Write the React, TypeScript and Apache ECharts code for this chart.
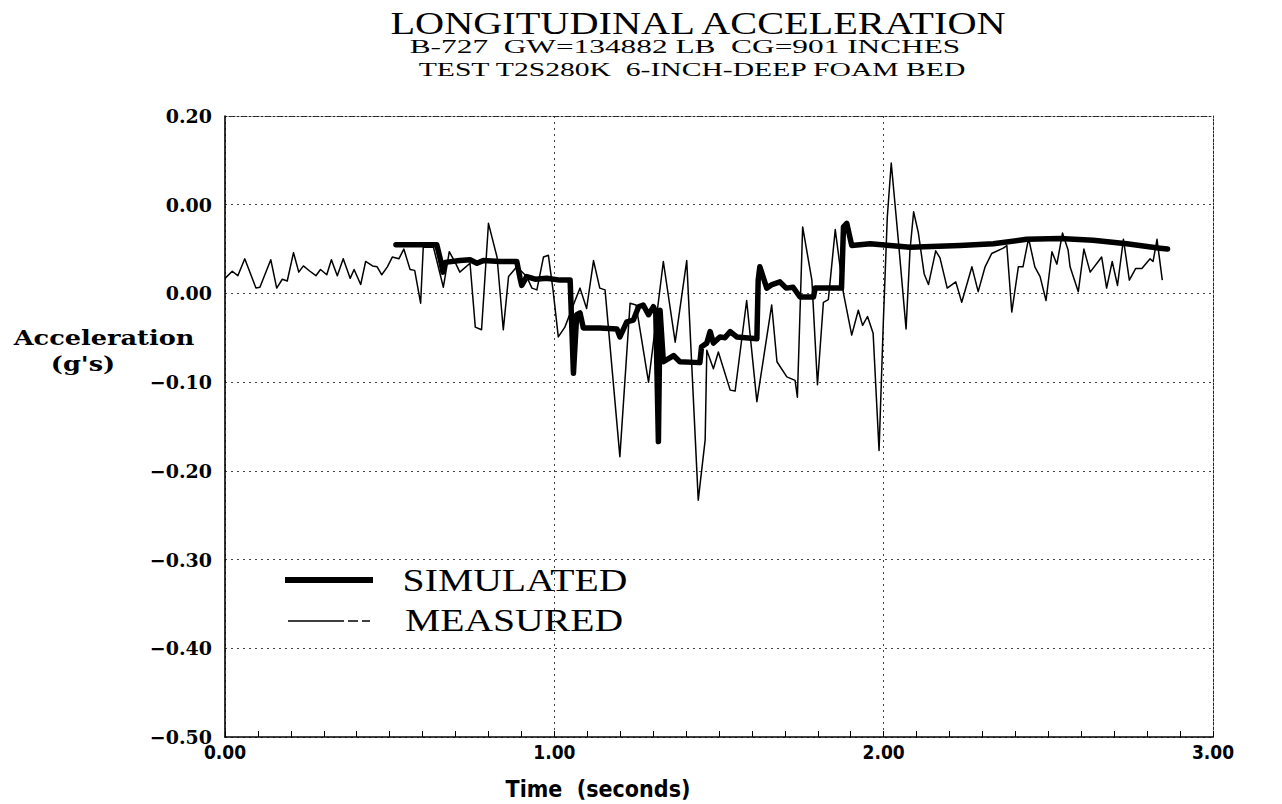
import React, { useEffect, useRef } from "react";
import * as echarts from "echarts";

// Axis ranges and printed tick labels (the second label from the top is printed as "0.00")
const xRange = [0, 3];
const yRange = [-0.5, 0.2];
const yTickLabels = ["−0.50", "−0.40", "−0.30", "−0.20", "−0.10", "0.00", "0.00", "0.20"];

const titleText = "LONGITUDINAL ACCELERATION";
const subtitle1 = "B-727  GW=134882 LB  CG=901 INCHES";
const subtitle2 = "TEST T2S280K  6-INCH-DEEP FOAM BED";
const yName = ["Acceleration", "(g's)"];
const xName = "Time  (seconds)";
const legendNames = ["SIMULATED", "MEASURED"];

// [time (s), acceleration (g)]
const simulated: [number, number][] = [
  [0.519, 0.055], [0.643, 0.055], [0.656, 0.035], [0.662, 0.024], [0.668, 0.035], [0.713, 0.037],
  [0.744, 0.038], [0.765, 0.034], [0.784, 0.037], [0.835, 0.036], [0.886, 0.036], [0.896, 0.017],
  [0.901, 0.009], [0.916, 0.019], [0.942, 0.016], [0.977, 0.017], [1.017, 0.015], [1.048, 0.015],
  [1.058, -0.09], [1.068, -0.024], [1.078, -0.022], [1.088, -0.039], [1.138, -0.039], [1.19, -0.04],
  [1.199, -0.049], [1.22, -0.032], [1.24, -0.03], [1.256, -0.015], [1.27, -0.013], [1.286, -0.024],
  [1.301, -0.015], [1.308, -0.021], [1.316, -0.167], [1.321, -0.019], [1.331, -0.077], [1.362, -0.07],
  [1.381, -0.077], [1.442, -0.078], [1.447, -0.06], [1.463, -0.056], [1.473, -0.043], [1.483, -0.056],
  [1.503, -0.049], [1.518, -0.05], [1.534, -0.043], [1.554, -0.049], [1.615, -0.051], [1.619, 0.015],
  [1.624, 0.03], [1.645, 0.006], [1.661, 0.01], [1.685, 0.013], [1.704, 0.006], [1.725, 0.007],
  [1.746, -0.004], [1.787, -0.004], [1.792, 0.006], [1.872, 0.006], [1.878, 0.075], [1.888, 0.079],
  [1.903, 0.054], [1.959, 0.056], [2.08, 0.052], [2.232, 0.054], [2.333, 0.056], [2.434, 0.061],
  [2.535, 0.062], [2.636, 0.06], [2.738, 0.056], [2.839, 0.051], [2.862, 0.05],
];

const measured: [number, number][] = [
  [0.0, 0.017], [0.022, 0.025], [0.039, 0.02], [0.06, 0.039], [0.094, 0.006], [0.106, 0.007],
  [0.139, 0.038], [0.157, 0.006], [0.174, 0.016], [0.189, 0.014], [0.208, 0.046], [0.224, 0.024],
  [0.238, 0.031], [0.258, 0.025], [0.276, 0.02], [0.29, 0.027], [0.309, 0.021], [0.323, 0.038],
  [0.341, 0.02], [0.359, 0.039], [0.38, 0.017], [0.392, 0.027], [0.412, 0.01], [0.427, 0.036],
  [0.448, 0.031], [0.462, 0.03], [0.476, 0.021], [0.493, 0.03], [0.508, 0.041], [0.528, 0.039],
  [0.543, 0.05], [0.562, 0.027], [0.576, 0.026], [0.594, -0.011], [0.602, 0.052], [0.633, 0.052],
  [0.663, 0.007], [0.681, 0.047], [0.699, 0.035], [0.713, 0.024], [0.744, 0.034], [0.76, -0.038],
  [0.779, -0.041], [0.8, 0.079], [0.826, 0.041], [0.845, -0.041], [0.861, 0.019], [0.886, 0.03],
  [0.916, 0.019], [0.932, 0.006], [0.947, 0.004], [0.967, 0.041], [0.982, 0.043], [0.996, 0.004],
  [1.012, -0.049], [1.032, -0.038], [1.063, -0.008], [1.078, 0.006], [1.098, -0.017], [1.119, 0.037],
  [1.138, 0.006], [1.154, 0.004], [1.199, -0.184], [1.23, -0.011], [1.248, -0.013], [1.286, -0.1],
  [1.331, 0.036], [1.367, -0.055], [1.402, 0.037], [1.437, -0.233], [1.458, -0.165], [1.463, -0.064],
  [1.483, -0.085], [1.498, -0.066], [1.534, -0.109], [1.549, -0.11], [1.584, -0.008], [1.615, -0.122],
  [1.66, -0.013], [1.676, -0.077], [1.706, -0.094], [1.731, -0.098], [1.738, -0.117], [1.754, 0.075],
  [1.782, 0.015], [1.799, -0.103], [1.817, -0.01], [1.832, -0.007], [1.853, 0.072], [1.878, 0.0],
  [1.903, -0.047], [1.923, -0.019], [1.936, -0.036], [1.951, -0.026], [1.968, -0.045], [1.986, -0.177],
  [1.999, -0.032], [2.011, 0.086], [2.023, 0.147], [2.044, 0.062], [2.068, -0.04], [2.08, 0.049],
  [2.091, 0.092], [2.105, 0.069], [2.123, 0.022], [2.136, 0.01], [2.158, 0.048], [2.171, 0.04],
  [2.193, 0.006], [2.219, 0.013], [2.237, -0.01], [2.268, 0.03], [2.287, 0.002], [2.308, 0.03],
  [2.328, 0.045], [2.363, 0.051], [2.374, 0.054], [2.389, -0.021], [2.409, 0.03], [2.423, 0.03],
  [2.44, 0.062], [2.459, 0.03], [2.475, 0.019], [2.493, -0.008], [2.511, 0.047], [2.526, 0.033],
  [2.543, 0.068], [2.56, 0.049], [2.566, 0.03], [2.591, 0.002], [2.608, 0.05], [2.627, 0.024],
  [2.662, 0.041], [2.677, 0.006], [2.694, 0.036], [2.71, 0.009], [2.728, 0.061], [2.746, 0.015],
  [2.765, 0.028], [2.784, 0.028], [2.809, 0.039], [2.818, 0.036], [2.83, 0.061], [2.846, 0.015],
];

const SERIF = "'Liberation Serif', 'Times New Roman', serif";
const BOLD_SERIF = "'DejaVu Serif', serif";
const NARROW_SANS = "'Liberation Sans Narrow', 'DejaVu Sans Condensed', 'Liberation Sans', sans-serif";

function textEl(text: string, x: number, y: number, font: string, size: number, scaleX: number, weight = "normal") {
  return {
    type: "text",
    x,
    y,
    scaleX,
    style: {
      text,
      x: 0,
      y: 0,
      fill: "#000",
      fontFamily: font,
      fontSize: size,
      fontWeight: weight,
      textAlign: "center",
      textVerticalAlign: "middle",
      align: "center",
      verticalAlign: "middle",
    },
  };
}

export default function App() {
  const ref = useRef<HTMLDivElement>(null);

  useEffect(() => {
    if (!ref.current) return;
    const chart = echarts.init(ref.current, null, { renderer: "svg" });
    const gridLine = { color: "#444", width: 1, type: [2, 4] as number[] };
    const frameDotted = { color: "#222", width: 1, type: [2, 2] as number[] };

    chart.setOption({
      animation: false,
      backgroundColor: "#ffffff",
      grid: { left: 225, right: 69, top: 116, bottom: 67 },
      xAxis: [
        {
          type: "value",
          min: xRange[0],
          max: xRange[1],
          interval: 1,
          position: "bottom",
          axisLine: { show: true, onZero: false, lineStyle: { color: "#000", width: 1.6 } },
          axisTick: { show: true, inside: true, length: 6, lineStyle: { color: "#000", width: 1 } },
          minorTick: { show: true, splitNumber: 10, length: 6, lineStyle: { color: "#000", width: 1 } },
          axisLabel: {
            formatter: (v: number) => v.toFixed(2),
            fontFamily: NARROW_SANS,
            fontWeight: "bold",
            fontSize: 19,
            color: "#000",
            margin: 5,
          },
          splitLine: { show: true, lineStyle: gridLine },
        },
        {
          type: "value",
          min: xRange[0],
          max: xRange[1],
          position: "top",
          axisLine: { show: true, onZero: false, lineStyle: frameDotted },
          axisTick: { show: false },
          axisLabel: { show: false },
          splitLine: { show: false },
        },
      ],
      yAxis: [
        {
          type: "value",
          min: yRange[0],
          max: yRange[1],
          interval: 0.1,
          position: "left",
          axisLine: { show: true, onZero: false, lineStyle: { color: "#000", width: 1.6 } },
          axisTick: { show: false },
          axisLabel: {
            formatter: (v: number) => yTickLabels[Math.round(v * 10) + 5] ?? "",
            fontFamily: BOLD_SERIF,
            fontWeight: "bold",
            fontSize: 19,
            color: "#000",
            margin: 13,
          },
          splitLine: { show: true, lineStyle: gridLine },
        },
        {
          type: "value",
          min: yRange[0],
          max: yRange[1],
          position: "right",
          axisLine: { show: true, onZero: false, lineStyle: frameDotted },
          axisTick: { show: false },
          axisLabel: { show: false },
          splitLine: { show: false },
        },
      ],
      series: [
        {
          name: legendNames[1],
          type: "line",
          data: measured,
          xAxisIndex: 0,
          yAxisIndex: 0,
          showSymbol: false,
          symbol: "none",
          lineStyle: { color: "#000", width: 1.5, join: "round" },
          z: 3,
        },
        {
          name: legendNames[0],
          type: "line",
          data: simulated,
          xAxisIndex: 0,
          yAxisIndex: 0,
          showSymbol: false,
          symbol: "none",
          lineStyle: { color: "#000", width: 5.5, join: "round", cap: "round" },
          z: 4,
        },
      ],
      graphic: [
        textEl(titleText, 698, 23, SERIF, 32, 1.26),
        textEl(subtitle1, 685, 47, SERIF, 19, 1.65),
        textEl(subtitle2, 692, 70, SERIF, 19, 1.56),
        textEl(yName[0], 104, 338, BOLD_SERIF, 21, 1.22, "bold"),
        textEl(yName[1], 83, 364, BOLD_SERIF, 21, 1.22, "bold"),
        textEl(xName, 598, 789, NARROW_SANS, 23, 1.0, "bold"),
        {
          type: "line",
          shape: { x1: 285, y1: 580, x2: 373, y2: 580 },
          style: { stroke: "#000", lineWidth: 6 },
        },
        {
          type: "line",
          shape: { x1: 288, y1: 621, x2: 370, y2: 621 },
          style: { stroke: "#000", lineWidth: 1.5, lineDash: [56, 4, 10, 4, 12] },
        },
        textEl(legendNames[0], 515, 581, SERIF, 31, 1.28),
        textEl(legendNames[1], 514, 621, SERIF, 31, 1.28),
      ],
    });

    return () => chart.dispose();
  }, []);

  return (
    <div
      ref={ref}
      style={{ position: "absolute", left: 0, top: 0, width: 1282, height: 804, background: "#fff" }}
    />
  );
}
